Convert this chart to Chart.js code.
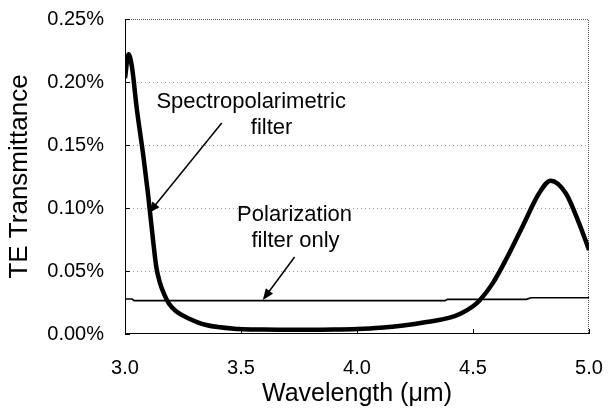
<!DOCTYPE html>
<html>
<head>
<meta charset="utf-8">
<script src="https://cdn.jsdelivr.net/npm/chart.js@4"></script>
<style>
  html, body { margin: 0; padding: 0; background: #fff; }
  #wrap { width: 611px; height: 411px; }
</style>
</head>
<body>
<div id="wrap"><canvas id="teChart" width="611" height="411"></canvas></div>
<script>
// wavelength (um) and TE transmittance (%) for the spectropolarimetric filter
var specWave = [3.00, 3.015, 3.03, 3.05, 3.08, 3.10, 3.12, 3.135, 3.15, 3.17, 3.19, 3.22, 3.27, 3.35, 3.49,
  3.60, 3.70, 3.80, 3.90, 4.00, 4.10, 4.20, 4.30, 4.40, 4.45, 4.50, 4.53, 4.584, 4.641,
  4.713, 4.785, 4.835, 4.90, 4.957, 5.00];
var specTrans = [0.203, 0.222, 0.212, 0.180, 0.140, 0.110, 0.076, 0.053, 0.041, 0.031, 0.024, 0.018, 0.0127, 0.0071, 0.0040,
  0.0035, 0.0033, 0.0033, 0.0035, 0.0040, 0.0050, 0.0068, 0.0095, 0.0130, 0.0165, 0.0220, 0.0270, 0.040, 0.0587,
  0.0852, 0.1117, 0.1217, 0.1117, 0.088, 0.0667];

// polarization filter alone
var polWave = [3.00, 3.03, 3.04, 4.38, 4.39, 4.73, 4.75, 5.00];
var polTrans = [0.0278, 0.0278, 0.0265, 0.0265, 0.0275, 0.0275, 0.0288, 0.0288];

var xTicks = [3.0, 3.5, 4.0, 4.5, 5.0];
var yTicks = [0, 0.05, 0.10, 0.15, 0.20, 0.25];

// callout labels: text lines at data positions, arrow tail -> head
var callouts = [
  { lines: [['Spectropolarimetric', 3.544, 0.184], ['filter', 3.632, 0.1635]],
    from: [3.417, 0.1675], to: [3.103, 0.096] },
  { lines: [['Polarization', 3.731, 0.0944], ['filter only', 3.735, 0.0738]],
    from: [3.731, 0.0611], to: [3.594, 0.027] }
];

function toPoints(xs, ys) {
  return xs.map(function (x, i) { return { x: x, y: ys[i] }; });
}

var FONT = "'Liberation Sans', Arial, sans-serif";

// dotted grid, plot frame and inward tick marks
var framePlugin = {
  id: 'frame',
  beforeDatasetsDraw: function (chart) {
    var c = chart.ctx, a = chart.chartArea;
    var xs = chart.scales.x, ys = chart.scales.y;
    c.save();
    c.lineWidth = 1;
    c.strokeStyle = '#9a9a9a';
    c.setLineDash([1, 3]);
    yTicks.forEach(function (v) {
      if (v <= 0 || v >= 0.25) return;
      var py = Math.round(ys.getPixelForValue(v)) + 0.5;
      c.beginPath(); c.moveTo(a.left, py); c.lineTo(a.right, py); c.stroke();
    });
    c.strokeStyle = '#555';
    c.setLineDash([1, 1]);
    c.beginPath();
    c.moveTo(a.left, a.top + 0.5); c.lineTo(a.right - 0.5, a.top + 0.5);
    c.lineTo(a.right - 0.5, a.bottom);
    c.stroke();
    c.setLineDash([]);
    c.strokeStyle = '#000';
    c.beginPath();
    c.moveTo(a.left + 0.5, a.top); c.lineTo(a.left + 0.5, a.bottom - 0.5);
    c.lineTo(a.right, a.bottom - 0.5);
    c.stroke();
    c.beginPath();
    yTicks.forEach(function (v) {
      var py = Math.round(ys.getPixelForValue(v)) + 0.5;
      c.moveTo(a.left, py); c.lineTo(a.left + 5, py);
    });
    xTicks.forEach(function (v) {
      var px = Math.round(xs.getPixelForValue(v)) + 0.5;
      c.moveTo(px, a.bottom); c.lineTo(px, a.bottom - 5);
    });
    c.stroke();
    c.restore();
  },
  afterDatasetsDraw: function (chart) {
    var c = chart.ctx;
    var xs = chart.scales.x, ys = chart.scales.y;
    c.save();
    c.fillStyle = '#000';
    c.strokeStyle = '#000';
    c.font = '22px ' + FONT;
    c.textAlign = 'center';
    c.textBaseline = 'middle';
    callouts.forEach(function (co) {
      co.lines.forEach(function (ln) {
        c.fillText(ln[0], xs.getPixelForValue(ln[1]), ys.getPixelForValue(ln[2]));
      });
      var x0 = xs.getPixelForValue(co.from[0]), y0 = ys.getPixelForValue(co.from[1]);
      var x1 = xs.getPixelForValue(co.to[0]), y1 = ys.getPixelForValue(co.to[1]);
      var ang = Math.atan2(y1 - y0, x1 - x0);
      var head = 12, spread = 0.38;
      c.lineWidth = 1.5;
      c.beginPath();
      c.moveTo(x0, y0);
      c.lineTo(x1 - Math.cos(ang) * head * 0.8, y1 - Math.sin(ang) * head * 0.8);
      c.stroke();
      c.beginPath();
      c.moveTo(x1, y1);
      c.lineTo(x1 - head * Math.cos(ang - spread), y1 - head * Math.sin(ang - spread));
      c.lineTo(x1 - head * Math.cos(ang + spread), y1 - head * Math.sin(ang + spread));
      c.closePath();
      c.fill();
    });
    c.restore();
  }
};

var ctx = document.getElementById('teChart').getContext('2d');
var chart = new Chart(ctx, {
  type: 'line',
  data: {
    datasets: [
      {
        label: 'Spectropolarimetric filter',
        data: toPoints(specWave, specTrans),
        borderColor: '#000',
        borderWidth: 4.5,
        pointRadius: 0,
        cubicInterpolationMode: 'monotone',
        fill: false
      },
      {
        label: 'Polarization filter only',
        data: toPoints(polWave, polTrans),
        borderColor: '#000',
        borderWidth: 1.6,
        pointRadius: 0,
        tension: 0,
        fill: false
      }
    ]
  },
  options: {
    responsive: false,
    animation: false,
    layout: { padding: { left: 0, right: 22, top: 19, bottom: 0 } },
    plugins: {
      legend: { display: false },
      tooltip: { enabled: false }
    },
    scales: {
      x: {
        type: 'linear',
        min: 3, max: 5,
        afterFit: function (s) {
          s.height = 77;
          s.paddingLeft = 0; s.paddingRight = 0;
        },
        afterBuildTicks: function (s) { s.ticks = xTicks.map(function (v) { return { value: v }; }); },
        grid: { display: false, drawTicks: false },
        border: { display: false },
        ticks: {
          padding: 22,
          color: '#000',
          font: { family: FONT, size: 20 },
          maxRotation: 0,
          callback: function (v) { return v.toFixed(1); }
        },
        title: {
          display: true,
          text: 'Wavelength (\u03bcm)',
          color: '#000',
          font: { family: FONT, size: 25 },
          padding: { top: 0, bottom: 2 }
        }
      },
      y: {
        min: 0, max: 0.25,
        afterFit: function (s) {
          s.width = 125;
          s.paddingTop = 0; s.paddingBottom = 0;
        },
        afterBuildTicks: function (s) { s.ticks = yTicks.map(function (v) { return { value: v }; }); },
        grid: { display: false, drawTicks: false },
        border: { display: false },
        ticks: {
          padding: 21,
          color: '#000',
          font: { family: FONT, size: 20 },
          callback: function (v) { return v.toFixed(2) + '%'; }
        },
        title: {
          display: true,
          text: 'TE Transmittance',
          color: '#000',
          font: { family: FONT, size: 26 },
          padding: { top: 4, bottom: 0 }
        }
      }
    }
  },
  plugins: [framePlugin]
});
</script>
</body>
</html>
